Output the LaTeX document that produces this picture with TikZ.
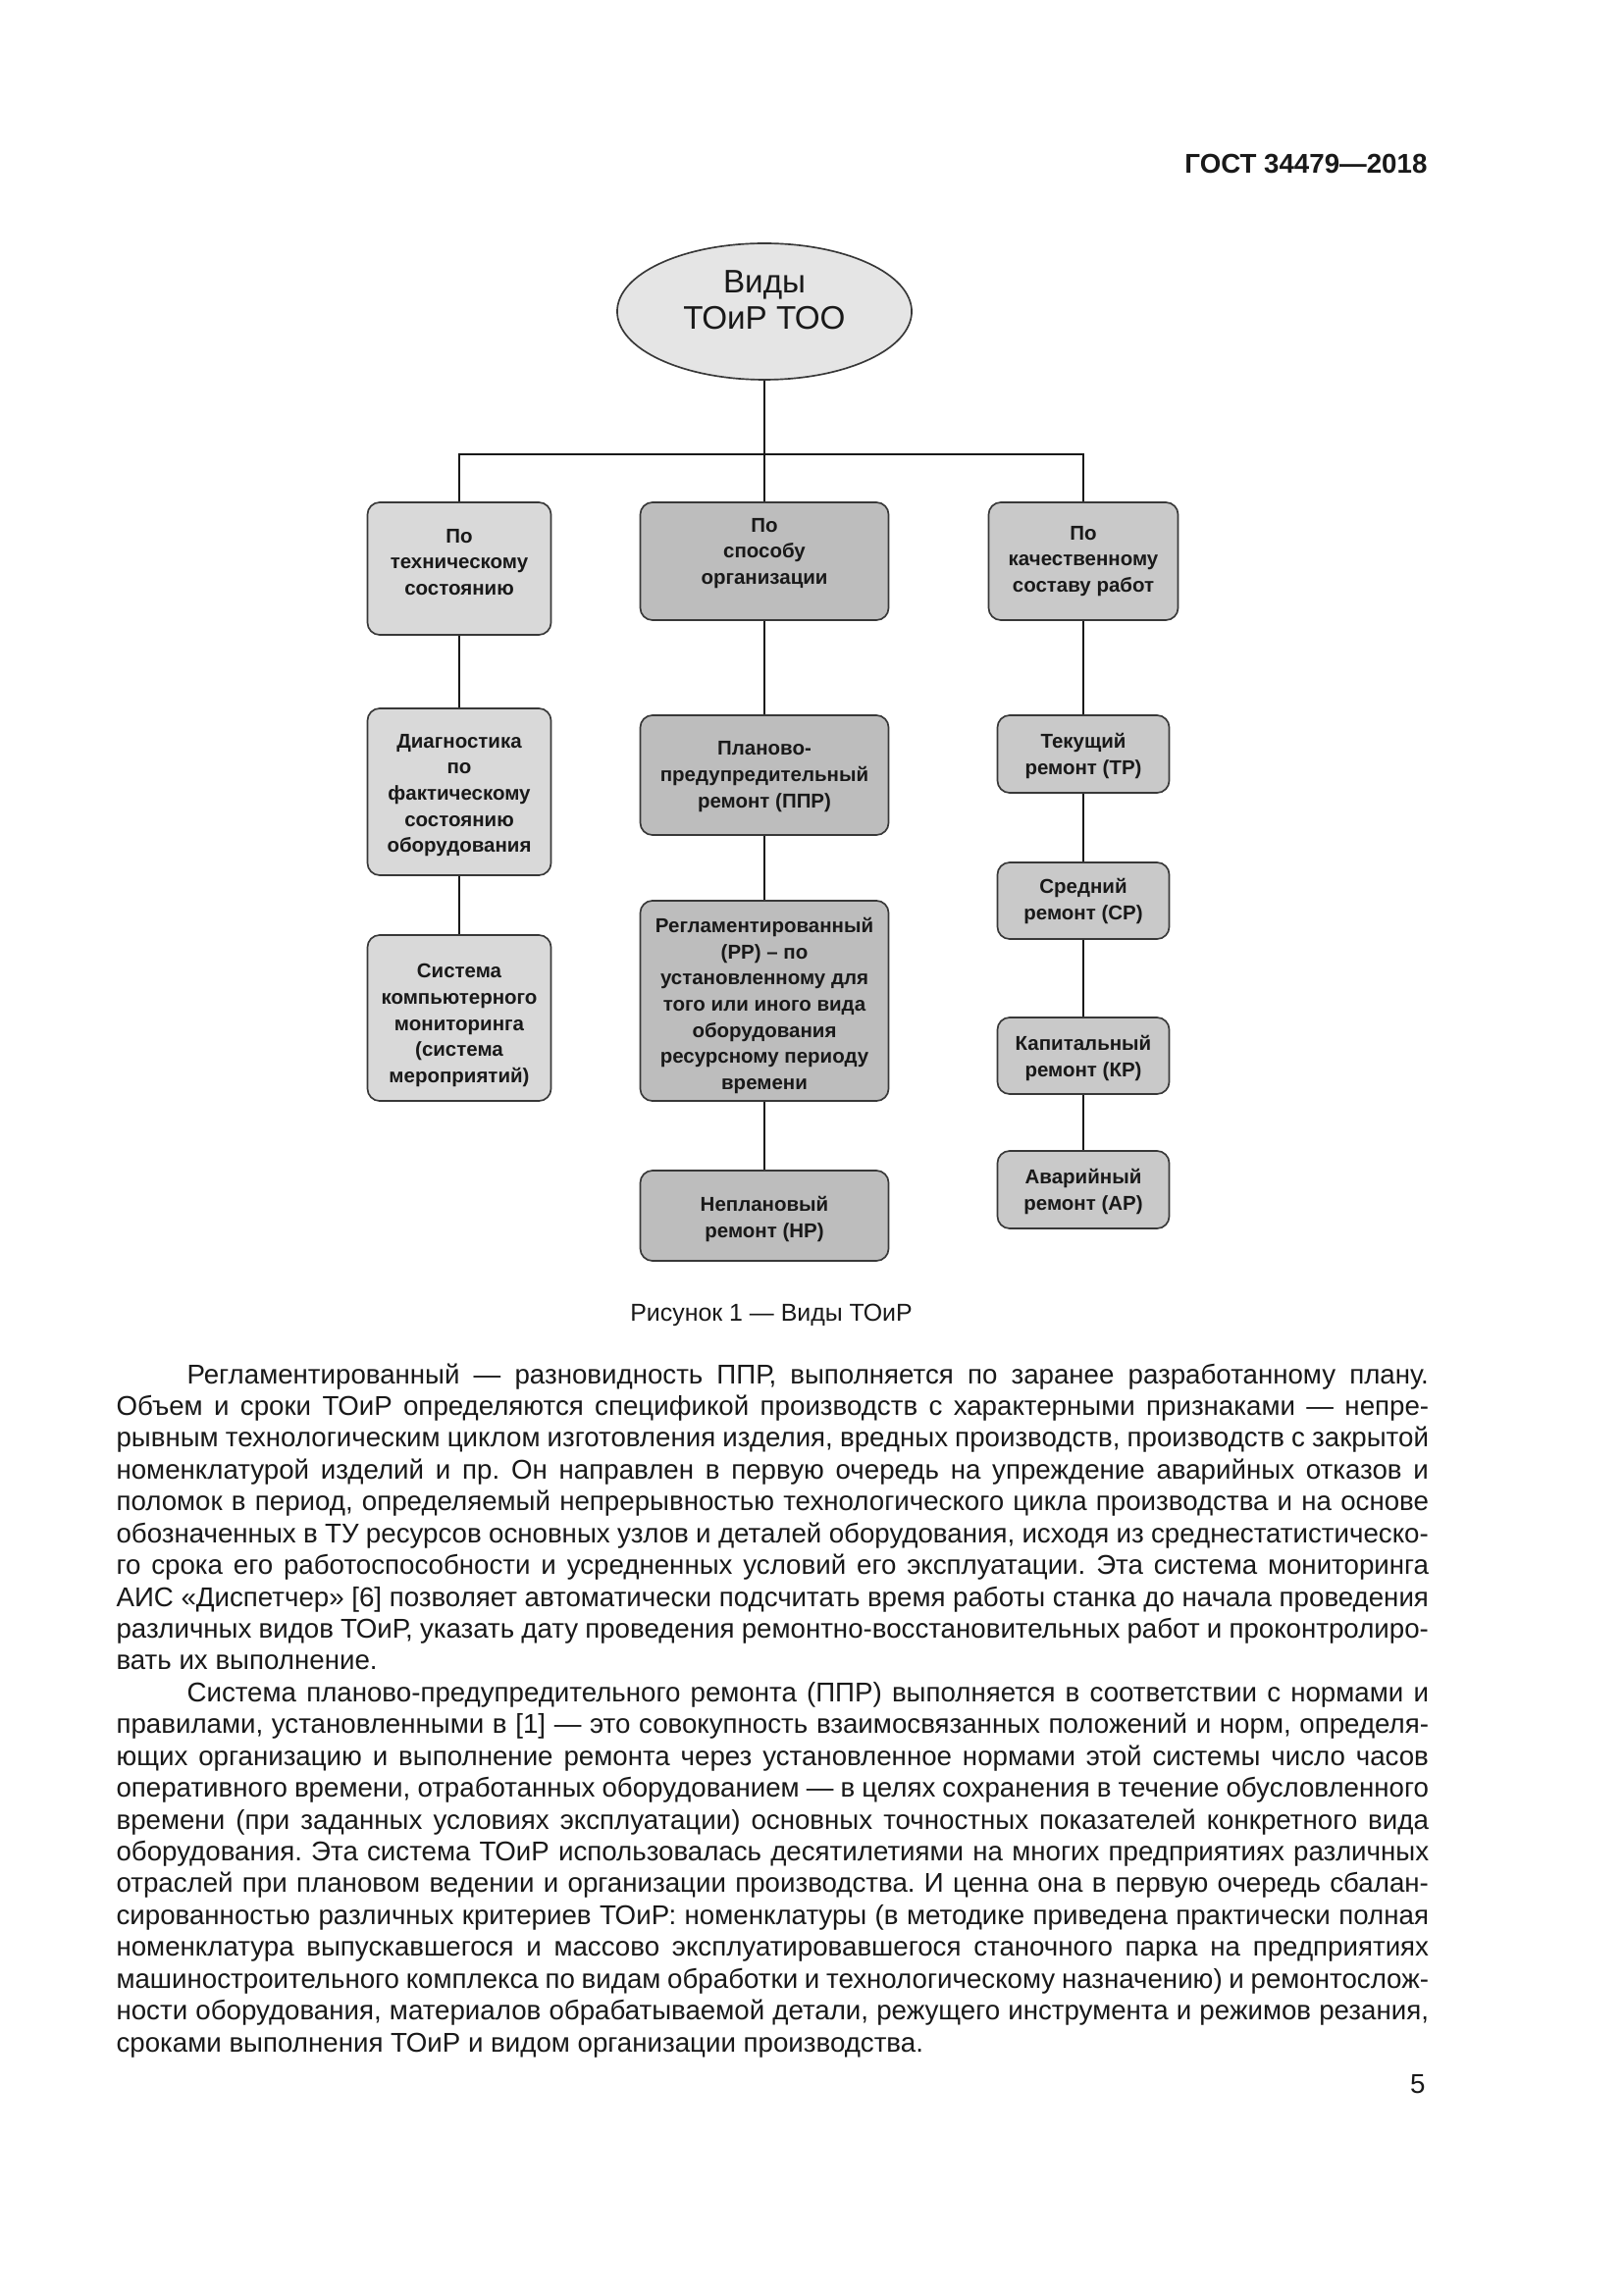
\documentclass[tikz,border=0pt]{standalone}
\usepackage{fontspec}
\setmainfont{Liberation Sans}
\usetikzlibrary{shapes.geometric}
\definecolor{ellfill}{gray}{0.9}
\definecolor{lfill}{gray}{0.85}
\definecolor{mfill}{gray}{0.74}
\definecolor{rfill}{gray}{0.79}
\definecolor{edgec}{gray}{0.22}
\newlength\bodyw \setlength\bodyw{483.1pt}
\newlength\bodywi \setlength\bodywi{457.1pt}
\newcommand\jli[2]{\node[bodytxt] (ln#1) at (190,{1410+32.43*#1}) {\makebox[\bodywi][s]{#2}};}
\newcommand\jl[2]{\node[bodytxt] (ln#1) at (118,{1410+32.43*#1}) {\makebox[\bodyw][s]{#2}};}
\newcommand\jlast[2]{\node[bodytxt] (ln#1) at (118,{1410+32.43*#1}) {#2};}
\frenchspacing
\begin{document}
\begin{tikzpicture}[x=0.0127cm,y=-0.0127cm,
  box/.style={draw=edgec, line width=0.6pt, rounded corners=4.5pt, inner sep=0pt},
  btxt/.style={align=center, inner sep=0pt, font={\bfseries\fontsize{7.4}{9.6}\selectfont}, text=black!90},
  conn/.style={draw=black!90, line width=0.8pt},
  bodytxt/.style={anchor=base west, inner sep=0pt, font={\fontsize{10}{12}\selectfont\frenchspacing\spaceskip=2.78pt plus 3pt minus 1.3pt\relax}, text=black!90}]
\fill[white] (0,0) rectangle (1654,2339);
\useasboundingbox (0,0) rectangle (1654,2339);

% header
\node[anchor=base east, inner sep=0pt, font={\bfseries\fontsize{10}{12}\selectfont}, text=black!90] (hdr) at (1455,177) {ГОСТ 34479—2018};

% root
\node[ellipse, draw=edgec, line width=0.6pt, fill=ellfill, minimum width=108.4pt, minimum height=50.2pt, inner sep=0pt] (E) at (779,317.5) {};
\node[align=center, inner sep=0pt, font={\fontsize{12}{13.3}\selectfont}, text=black!90] (Et) at (779,306) {Виды\\ТОиР ТОО};

% left column
\node[box, fill=lfill, minimum width=67.57pt, minimum height=48.78pt] (L1) at (468,579.5) {};
\node[btxt] (L1t) at (468,573) {По\\техническому\\состоянию};
\node[box, fill=lfill, minimum width=67.57pt, minimum height=61.43pt] (L2) at (468,807) {};
\node[btxt] (L2t) at (468,810.5) {Диагностика\\по\\фактическому\\состоянию\\оборудования};
\node[box, fill=lfill, minimum width=67.57pt, minimum height=61.07pt] (L3) at (468,1037.5) {};
\node[btxt] (L3t) at (468,1045) {Система\\компьютерного\\мониторинга\\(система\\мероприятий)};

% middle column
\node[box, fill=mfill, minimum width=91.42pt, minimum height=43.36pt] (M1) at (779,572) {};
\node[btxt] (M1t) at (779,564) {По\\способу\\организации};
\node[box, fill=mfill, minimum width=91.42pt, minimum height=44.08pt] (M2) at (779,790) {};
\node[btxt] (M2t) at (779,791.5) {Планово-\\предупредительный\\ремонт (ППР)};
\node[box, fill=mfill, minimum width=91.42pt, minimum height=73.72pt] (M3) at (779,1020) {};
\node[btxt] (M3t) at (779,1025) {Регламентированный\\(РР) – по\\установленному для\\того или иного вида\\оборудования\\ресурсному периоду\\времени};
\node[box, fill=mfill, minimum width=91.42pt, minimum height=33.24pt] (M4) at (779,1239) {};
\node[btxt] (M4t) at (779,1242.5) {Неплановый\\ремонт (НР)};

% right column
\node[box, fill=rfill, minimum width=69.74pt, minimum height=43.36pt] (R1) at (1104,572) {};
\node[btxt] (R1t) at (1104,572) {По\\качественному\\составу работ};
\node[box, fill=rfill, minimum width=63.24pt, minimum height=28.55pt] (R2) at (1104,768.5) {};
\node[btxt] (R2t) at (1104,770.5) {Текущий\\ремонт (ТР)};
\node[box, fill=rfill, minimum width=63.24pt, minimum height=28.19pt] (R3) at (1104,918) {};
\node[btxt] (R3t) at (1104,918.5) {Средний\\ремонт (СР)};
\node[box, fill=rfill, minimum width=63.24pt, minimum height=28.19pt] (R4) at (1104,1076) {};
\node[btxt] (R4t) at (1104,1078.5) {Капитальный\\ремонт (КР)};
\node[box, fill=rfill, minimum width=63.24pt, minimum height=28.55pt] (R5) at (1104,1212.5) {};
\node[btxt] (R5t) at (1104,1214.5) {Аварийный\\ремонт (АР)};

% connectors
\coordinate (bar) at (779,463);
\draw[conn] (E.south) -- (bar);
\draw[conn] (L1.north) |- (bar) -| (R1.north);
\draw[conn] (bar) -- (M1.north);
\draw[conn] (L1.south) -- (L2.north);
\draw[conn] (L2.south) -- (L3.north);
\draw[conn] (M1.south) -- (M2.north);
\draw[conn] (M2.south) -- (M3.north);
\draw[conn] (M3.south) -- (M4.north);
\draw[conn] (R1.south) -- (R2.north);
\draw[conn] (R2.south) -- (R3.north);
\draw[conn] (R3.south) -- (R4.north);
\draw[conn] (R4.south) -- (R5.north);

% caption
\node[anchor=base, inner sep=0pt, font={\fontsize{9}{11}\selectfont}, text=black!90] (cap) at (786,1346) {Рисунок 1 — Виды ТОиР};

% body text
\jli{0}{Регламентированный — разновидность ППР, выполняется по заранее разработанному плану.}
\jl{1}{Объем и сроки ТОиР определяются спецификой производств с характерными признаками — непре-}
\jl{2}{рывным технологическим циклом изготовления изделия, вредных производств, производств с закрытой}
\jl{3}{номенклатурой изделий и пр. Он направлен в первую очередь на упреждение аварийных отказов и}
\jl{4}{поломок в период, определяемый непрерывностью технологического цикла производства и на основе}
\jl{5}{обозначенных в ТУ ресурсов основных узлов и деталей оборудования, исходя из среднестатистическо-}
\jl{6}{го срока его работоспособности и усредненных условий его эксплуатации. Эта система мониторинга}
\jl{7}{АИС «Диспетчер» [6] позволяет автоматически подсчитать время работы станка до начала проведения}
\jl{8}{различных видов ТОиР, указать дату проведения ремонтно-восстановительных работ и проконтролиро-}
\jlast{9}{вать их выполнение.}
\jli{10}{Система планово-предупредительного ремонта (ППР) выполняется в соответствии с нормами и}
\jl{11}{правилами, установленными в [1] — это совокупность взаимосвязанных положений и норм, определя-}
\jl{12}{ющих организацию и выполнение ремонта через установленное нормами этой системы число часов}
\jl{13}{оперативного времени, отработанных оборудованием — в целях сохранения в течение обусловленного}
\jl{14}{времени (при заданных условиях эксплуатации) основных точностных показателей конкретного вида}
\jl{15}{оборудования. Эта система ТОиР использовалась десятилетиями на многих предприятиях различных}
\jl{16}{отраслей при плановом ведении и организации производства. И ценна она в первую очередь сбалан-}
\jl{17}{сированностью различных критериев ТОиР: номенклатуры (в методике приведена практически полная}
\jl{18}{номенклатура выпускавшегося и массово эксплуатировавшегося станочного парка на предприятиях}
\jl{19}{машиностроительного комплекса по видам обработки и технологическому назначению) и ремонтослож-}
\jl{20}{ности оборудования, материалов обрабатываемой детали, режущего инструмента и режимов резания,}
\jlast{21}{сроками выполнения ТОиР и видом организации производства.}

% page number
\node[anchor=base east, inner sep=0pt, font={\fontsize{10}{12}\selectfont}, text=black!90] (pg) at (1453,2133) {5};
\end{tikzpicture}
\end{document}
